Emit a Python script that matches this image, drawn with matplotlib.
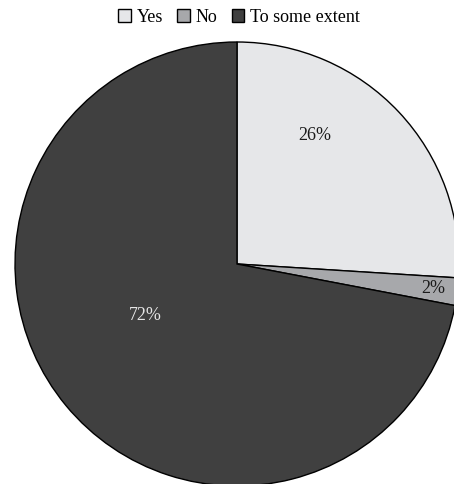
"""Pie chart of survey responses."""

import matplotlib.pyplot as plt

plt.rcParams["font.family"] = ["Liberation Serif", "DejaVu Serif"]

LABELS = ["Yes", "No", "To some extent"]
SHARES = [26, 2, 72]
COLORS = ["#e6e7e9", "#a7a8ab", "#404040"]
TEXT_COLORS = ["#1a1a1a", "#1a1a1a", "#e6e6e6"]
# label anchor points, in units of the pie radius
LABEL_POS = [(0.35, 0.58), (0.885, -0.11), (-0.415, -0.23)]


def main() -> None:
    fig = plt.figure(figsize=(4.54, 4.84), dpi=100)
    ax = fig.add_axes([15 / 454, -2 / 484, 444 / 454, 444 / 484])

    wedges, texts, autotexts = ax.pie(
        SHARES,
        colors=COLORS,
        startangle=90,
        counterclock=False,
        autopct="%d%%",
        wedgeprops=dict(edgecolor="black", linewidth=1.0),
        textprops=dict(fontsize=13),
    )
    for txt, pos, col in zip(autotexts, LABEL_POS, TEXT_COLORS):
        txt.set_position(pos)
        txt.set_color(col)
    for w in wedges:
        w.set_clip_on(False)

    ax.set_xlim(-1, 1)
    ax.set_ylim(-1, 1)
    ax.set_aspect("auto")
    ax.axis("off")

    fig.legend(
        wedges,
        LABELS,
        loc="center",
        bbox_to_anchor=(239 / 454, 1 - 17 / 484),
        ncol=3,
        frameon=False,
        fontsize=13,
        handlelength=0.7,
        handleheight=0.7,
        handletextpad=0.3,
        columnspacing=0.8,
        borderpad=0,
    )

    fig.savefig("out.png", dpi=100)


if __name__ == "__main__":
    main()
